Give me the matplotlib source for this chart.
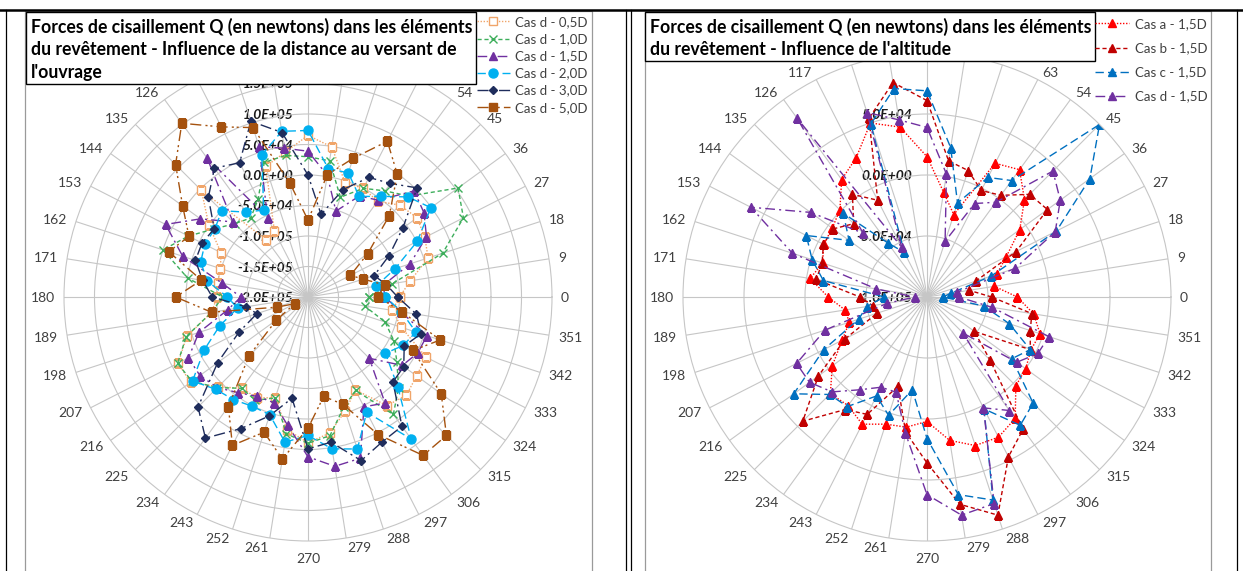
import numpy as np
import matplotlib
matplotlib.use('Agg')
import matplotlib.pyplot as plt
from matplotlib.patches import Rectangle
from matplotlib.lines import Line2D
from matplotlib.transforms import offset_copy

plt.rcParams['font.family'] = ['Lato', 'DejaVu Sans']

# categories: angle around the lining, degrees
angles = list(range(0, 360, 9))

# left chart - Cas d, distance to the slope (shear force Q, N)
cas_d_05 = [-5e4, -3e4, 7e3, 1.5e4, 2.1e4, 1.3e4, -6e3, 0, -3e3, 4.9e4,
            6.5e4, 4e4, 2.5e4, -7.9e4, -8.4e4, 4.7e4, 1e3, -4e4, -4.9e4, -5e4,
            -5.1e4, -4e4, 9e3, 3.9e4, 3.8e4, 8e3, -1.5e4, -1.5e4, -2.6e4, 2e4,
            3.9e4, 2.6e4, -3e3, -2.9e4, 2e4, 2.8e4, 2e4, 1.7e4, -3.9e4, -6e4]
cas_d_10 = [-1e5, -6e4, 3.2e4, 8.6e4, 1.04e5, 3.4e4, 1.5e4, 0, -2.8e4, 2.6e4,
            3e4, 3.5e4, 3.2e4, -2e4, -4e4, -3e4, -1e4, 2e4, 5e4, 0,
            -6e4, -4e4, 1e4, 4e4, 3.5e4, 1e4, -1.5e4, -1e4, -2.6e4, 2.7e4,
            4e4, 3e4, -1e4, -2.8e4, 3.8e4, 1e4, -2e4, -4.2e4, -6.7e4, -1.06e5]
cas_d_15 = [-7.4e4, -7.5e4, -2.4e4, 1.8e4, 3.5e4, 4.6e4, -4e3, -1.4e4, -5.2e4, 2e3,
            3.9e4, 4.7e4, 5.9e4, -5.4e4, 8.1e4, -2.6e4, 1.8e4, 6.2e4, 1.6e4, -5.8e4,
            -9e4, -6.7e4, -1.2e4, 2e4, 1.9e4, 1e4, -6e3, -1.7e4, -1.8e4, 1.3e4,
            6.2e4, 8.1e4, 7.8e4, 2e3, 1.5e4, -5.8e4, -9e3, 2e3, 5e3, -4.6e4]
cas_d_20 = [-7.3e4, -8.7e4, -5e4, 1e3, 4.9e4, 3.2e4, 4e3, -1.5e4, 1.4e4, 1.3e4,
            7.3e4, 7.5e4, 4.5e4, -4e4, -2.8e4, 0, -1.1e4, -1e4, -1.5e4, -3.3e4,
            -6.8e4, -8.3e4, -4.8e4, -9e3, 3.4e4, 1.4e4, 8e3, 1e3, 3e3, 4.1e4,
            2.7e4, 5.2e4, 6.2e4, 1.2e4, 8.8e4, 8e3, -4.3e4, -2.5e4, -1.4e4, -4.5e4]
cas_d_30 = [-5.3e4, -7e4, -8.6e4, -5.1e4, -8e3, 5.3e4, 3e4, 2e4, -1.5e4, -6.3e4,
            0, 7.3e4, 1.03e5, 4.7e4, 6.1e4, 3.1e4, -1e4, -5e3, -6e3, -2.5e4,
            -4.3e4, -9.7e4, -1.12e5, -7.3e4, -1.7e4, 5.5e4, 8.6e4, 4.2e4, 5e3, -3.2e4,
            4.9e4, 4.1e4, 8.2e4, 6.7e4, 6.2e4, -3e3, -6e3, -2.3e4, -5e3, -2e4]
cas_d_50 = [-8.5e4, -7.3e4, -1.05e5, -1.22e5, -7.9e4, -1.15e4, 4.9e4, 8.65e4, 3.9e4, 3e3,
            -7.4e4, -1.13e4, 9.2e4, 1.13e5, 1.52e5, 1.07e5, 5.4e4, 1.9e4, 4e4, -2.3e4,
            1.7e4, -4e4, -1.46e5, -1.76e5, -1.36e5, -6.3e4, 2.2e4, 7.3e4, 3.3e4, 6.9e4,
            1.5e4, -3.5e4, -1.5e4, 5.3e4, 1.21e5, 1.21e5, 7e4, -7e3, 2.8e4, -4.4e4]

# right chart - influence of the altitude, all at 1,5D
cas_a_15 = [-2.6e4, -4.4e4, -4e4, -2.7e4, -6e3, 1.3e4, 2.9e4, 2.3e4, -2.9e4, -1.3e4,
            1.5e4, 4.1e4, 5e4, 2.8e4, 1.9e4, 1e3, -4e3, -5e3, -1e4, -3e3,
            -1.9e4, -3.2e4, -3.3e4, -2.2e4, -4e3, 1.2e4, 1e4, 1.7e4, 9.6e3, 8e3,
            2e3, 1.9e4, 2.8e4, 2.9e4, 2.3e4, 3e3, 0, -4.4e3, -2.6e3, -1.15e4]
cas_b_15 = [-4.7e4, -6.5e4, -5.8e4, -1.8e4, 2.2e4, 1.9e4, 3e3, -2e3, 9e3, 1.3e4,
            6.1e4, 7.8e4, 5.4e4, -1.1e4, 4e3, -1.5e4, -5e3, -4.7e3, -9.6e3, -8e3,
            -4.5e4, -5.5e4, -5.7e4, -2.5e4, 1e4, 4.4e4, 1.4e4, 8e3, -2.3e4, 1.2e4,
            3.6e4, 7.2e4, 8.8e4, 4.7e4, 3.4e4, -2.7e4, -5.2e4, -5e3, -1.1e4, -1.3e4]
cas_c_15 = [-8.7e4, -8e4, -4.5e4, 1.9e4, 6.5e4, 1e5, 1.8e4, 1e4, -1.9e4, 2.4e4,
            6.9e4, 7.3e4, 4.9e4, -5.9e4, -4.5e4, -3e3, -2.1e4, 1.1e4, -1e3, -1.4e4,
            -6.5e4, -5e4, -4.1e4, -5e3, 3.5e4, 1.3e4, 1.1e4, -9e3, 2e3, -2.3e4,
            1.6e4, 6.4e4, 7.5e4, 3e3, 3e4, 2.3e4, -1.4e4, -5e3, -2.9e4, -5.3e4]
cas_d_15_alt = cas_d_15

# angle labels that sit under the title box in the original
hidden_left = [63, 72, 81, 90, 99, 108, 117]
hidden_right = [72, 81, 90, 99, 108]

W, H = 1243, 571
R = 244  # radius of the radar, px
fig = plt.figure(figsize=(W / 100, H / 100), dpi=100)
fig.patch.set_facecolor('white')


def px_rect(x0, y0, x1, y1):
    return [x0 / W, 1 - y1 / H, (x1 - x0) / W, (y1 - y0) / H]


def radar(cx, cy, rmin, rmax, step, hidden):
    ax = fig.add_axes(px_rect(cx - R, cy - R, cx + R, cy + R), projection='polar')
    ax.set_ylim(rmin, rmax)
    ax.set_thetagrids(angles, [''] * len(angles))
    ax.tick_params(axis='x', length=0)
    ax.set_yticks(np.arange(rmin + step, rmax, step))
    ax.set_yticklabels([])
    ax.grid(color='#C6C6C6', lw=0.8)
    ax.spines['polar'].set_color('#C6C6C6')
    ax.spines['polar'].set_linewidth(0.8)
    # category labels, anchored on a circle just outside the rim (Excel style)
    for a in angles:
        if a in hidden:
            continue
        t = np.deg2rad(a)
        c, s = np.cos(t), np.sin(t)
        if abs(c) < 1e-6:
            rc, ha, va = 256, 'center', ('bottom' if s > 0 else 'top')
        else:
            rc, ha, va = 253, ('left' if c > 0 else 'right'), 'center_baseline'
        ax.text(0.5 + rc / (2 * R) * c, 0.5 + rc / (2 * R) * s, str(a),
                transform=ax.transAxes, ha=ha, va=va,
                fontsize=10, color='#404040', clip_on=False)
    tr = offset_copy(ax.transData, fig=fig, x=-15, y=-1, units='dots')
    for v in np.arange(rmin, rmax, step):
        ax.text(np.pi / 2, v, f'{v:.1E}', transform=tr, ha='right', va='center',
                fontsize=10, fontweight='bold', fontstyle='italic', color='#1A1A1A', zorder=1.5)
    return ax


def closed(vals):
    th = np.deg2rad(angles + angles[:1])
    return th, np.array(vals + vals[:1])


# ---- left chart
axl = radar(308, 297, -2e5, 2e5, 5e4, hidden_left)
left_series = [
    ('Cas d - 0,5D', cas_d_05, dict(color='#F0A56A', ls=(0, (1, 1.2)), marker='s', ms=6, mfc='white', mew=1)),
    ('Cas d - 1,0D', cas_d_10, dict(color='#3DAE5B', ls=(0, (3, 2)), marker='x', ms=6, mew=1)),
    ('Cas d - 1,5D', cas_d_15, dict(color='#7030A0', ls=(0, (7, 3, 1.5, 3)), marker='^', ms=6)),
    ('Cas d - 2,0D', cas_d_20, dict(color='#00B0F0', ls=(0, (6, 3)), marker='o', ms=6.5)),
    ('Cas d - 3,0D', cas_d_30, dict(color='#1F2D5C', ls=(0, (8, 3, 1.5, 3)), marker='D', ms=4)),
    ('Cas d - 5,0D', cas_d_50, dict(color='#A5520F', ls=(0, (8, 3, 1.5, 2, 1.5, 3)), marker='s', ms=6)),
]
for lab, vals, st in left_series:
    th, rr = closed(vals)
    axl.plot(th, rr, lw=1, label=lab, zorder=2, **st)

# ---- right chart
axr = radar(927, 297, -1e5, 1e5, 5e4, hidden_right)
right_series = [
    ('Cas a - 1,5D', cas_a_15, dict(color='#FF0000', ls=(0, (1, 1.2)))),
    ('Cas b - 1,5D', cas_b_15, dict(color='#C00000', ls=(0, (3, 2)))),
    ('Cas c - 1,5D', cas_c_15, dict(color='#0070C0', ls=(0, (6, 3)))),
    ('Cas d - 1,5D', cas_d_15_alt, dict(color='#7030A0', ls=(0, (7, 3, 1.5, 3)))),
]
for lab, vals, st in right_series:
    th, rr = closed(vals)
    axr.plot(th, rr, lw=1, marker='^', ms=6, label=lab, zorder=2, **st)


# ---- title boxes
def title_box(x0, y0, x1, y1, text):
    fig.add_artist(Rectangle((x0 / W, 1 - y1 / H), (x1 - x0) / W, (y1 - y0) / H,
                             transform=fig.transFigure, fc='white', ec='black', lw=1, zorder=5))
    fig.text((x0 + 5) / W, 1 - (y0 + 6) / H, text, ha='left', va='top', fontsize=12.7,
             fontweight='bold', color='black', linespacing=1.38, zorder=6)


title_box(26, 12, 476, 84, "Forces de cisaillement Q (en newtons) dans les éléments\n"
                           "du revêtement - Influence de la distance au versant de\nl'ouvrage")
title_box(645, 12, 1095, 61, "Forces de cisaillement Q (en newtons) dans les éléments\n"
                             "du revêtement - Influence de l'altitude")

# ---- legends
lg1 = fig.legend(*axl.get_legend_handles_labels(), loc='upper left', bbox_to_anchor=(477 / W, 1 - 16 / H),
                 frameon=False, fontsize=9.5, handlelength=2.5, handletextpad=0.4,
                 labelspacing=0.39, borderpad=0, borderaxespad=0)
lg1.set_zorder(6)
lg2 = fig.legend(*axr.get_legend_handles_labels(), loc='upper left', bbox_to_anchor=(1095 / W, 1 - 18 / H),
                 frameon=False, fontsize=9.5, handlelength=2.6, handletextpad=0.4,
                 labelspacing=0.92, borderpad=0, borderaxespad=0)
lg2.set_zorder(6)
for lg in (lg1, lg2):
    for t in lg.get_texts():
        t.set_color('#404040')

# ---- chart frames and table borders
for x0, x1 in ((25, 592), (645, 1211)):
    fig.add_artist(Rectangle((x0 / W, -0.01), (x1 - x0) / W, 1 - 11 / H + 0.01, transform=fig.transFigure,
                             fc='none', ec='#9A9A9A', lw=0.9, zorder=4))
fig.add_artist(Line2D([0, 1], [1 - 9.5 / H] * 2, transform=fig.transFigure, color='black', lw=1.8, zorder=7))
for x in (6, 626, 631, 1237):
    fig.add_artist(Line2D([x / W] * 2, [0, 1 - 9.5 / H], transform=fig.transFigure, color='black', lw=0.9, zorder=7))

fig.savefig('out.png', dpi=100)
